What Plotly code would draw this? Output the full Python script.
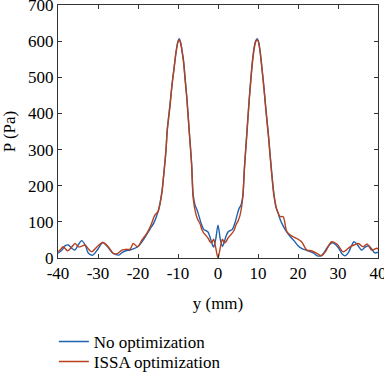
import plotly.graph_objects as go

# --- data ---
y_no = [-40, -39, -38.2, -37.4, -36.5, -35.8, -35, -34.1, -33.2, -32.4, -31.3, -30, -28.8, -27.5, -26.5,
        -25.7, -24.8, -24, -23, -22, -21, -20, -19, -18, -17, -16, -15, -14.5, -14, -13.7, -13, -12.7,
        -12, -11.5, -11, -10.5, -10, -9.7, -9.3, -9, -8.6, -8.2, -7.8, -7.2, -6.6, -6.2, -5.7, -5.3,
        -4.8, -4.2, -3.5, -3, -2.5, -2, -1.5, -1.1, -0.6, 0,
        0.6, 1.1, 1.5, 2, 2.5, 3, 3.5, 4.2, 4.8, 5.3, 5.7, 6.2, 6.6, 7.2, 7.8, 8.2, 8.6, 9, 9.4,
        9.8, 10.1, 10.5, 11, 11.5, 12, 12.7, 13, 13.7, 14, 14.5, 15, 15.5, 16, 17, 18, 19, 20, 21,
        22, 23, 24, 24.8, 25.7, 26.5, 27.5, 28.6, 30, 31, 31.75, 32.6, 33.3, 34, 34.9, 35.9, 36.8,
        37.6, 38.5, 39.2, 40]
p_no = [13, 22, 34, 36, 26, 22, 35, 48, 36, 13, 8, 25, 43, 30, 15,
        10, 8, 15, 20, 22, 26, 32, 45, 62, 80, 98, 128, 151, 185, 216, 300, 354,
        425, 480, 525, 570, 600, 607, 595, 575, 545, 495, 446, 354, 262, 175, 145, 135,
        118, 95, 78, 76, 72, 58, 40, 30, 50, 91,
        50, 32, 42, 60, 72, 76, 78, 96, 120, 138, 145, 172, 250, 345, 440, 495, 545, 580, 600,
        607, 600, 575, 525, 470, 410, 330, 290, 205, 175, 140, 125, 108, 95, 75, 60, 48, 34, 26,
        22, 18, 13, 6, 6, 15, 32, 42, 30, 12, 6, 15, 32, 45, 36, 22, 30,
        34, 24, 14, 16]

y_issa = [-40, -39.5, -38.7, -37.6, -36.6, -35.75, -34.9, -34, -33.25, -32.4, -31.6, -30.5, -28.8, -27.5,
          -26.2, -25.2, -24, -23, -22, -21.2, -20.1, -19, -17.8, -16.8, -15.75, -15, -14.5, -14, -13.7,
          -13, -12.7, -12, -11.5, -11, -10.5, -10, -9.7, -9.3, -9, -8.6, -8.2, -7.8, -7.2, -6.6, -6.2,
          -5.5, -5, -4.5, -4, -3.5, -3, -2.5, -2, -1.6, -1.1, -0.6, 0,
          0.6, 1.1, 1.6, 2, 2.5, 3, 3.5, 4, 4.5, 5, 5.5, 6.2, 6.6, 7.2, 7.8, 8.2, 8.6, 9, 9.4, 9.8,
          10.1, 10.5, 11, 11.5, 12, 12.7, 13, 13.7, 14, 14.7, 15.5, 16.3, 17.2, 18.3, 19.7, 20.9, 22.2,
          23.3, 24.7, 25.9, 27, 28.4, 29.8, 31.3, 33, 34, 35.1, 36.3, 37.3, 38.4, 39.7, 40]
p_issa = [18, 22, 31, 20, 30, 40, 31, 33, 36, 25, 17, 28, 43, 32,
          13, 12, 22, 24, 24, 40, 31, 50, 68, 90, 119, 128, 150, 182, 214,
          298, 350, 420, 478, 522, 568, 598, 604, 592, 572, 540, 490, 442, 350, 258, 165,
          120, 105, 95, 78, 68, 62, 55, 45, 42, 52, 30, 0,
          30, 52, 42, 45, 55, 62, 68, 76, 92, 102, 118, 168, 245, 340, 435, 490, 540, 575, 598, 604,
          598, 572, 522, 468, 405, 326, 285, 200, 172, 135, 115, 114, 73, 62, 54, 45, 22,
          20, 13, 6, 20, 45, 38, 17, 31, 36, 40, 31, 39, 22, 27, 24]

x_ticks = [-40, -30, -20, -10, 0, 10, 20, 30, 40]
x_tick_labels = ["-40", "-30", "-20", "-10", "0", "10", "20", "30", "40"]
y_ticks = [0, 100, 200, 300, 400, 500, 600, 700]

FONT = "Times New Roman, Liberation Serif, DejaVu Serif, serif"

fig = go.Figure()
fig.add_trace(go.Scatter(x=y_no, y=p_no, mode="lines", name="No optimization", legend="legend",
                         line=dict(color="#1f62b0", width=1.4, shape="spline", smoothing=0.8)))
fig.add_trace(go.Scatter(x=y_issa, y=p_issa, mode="lines", name="ISSA optimization", legend="legend2",
                         line=dict(color="#b8401c", width=1.4, shape="spline", smoothing=0.8)))

axis_common = dict(showgrid=False, zeroline=False, showline=True, linecolor="#333333", linewidth=1,
                   mirror="ticks", ticks="inside", ticklen=4, tickcolor="#333333",
                   ticklabeloverflow="allow", automargin=False,
                   tickfont=dict(family=FONT, size=17, color="black"))

fig.update_xaxes(range=[-40, 40], tickvals=x_ticks, ticktext=x_tick_labels,
                 title=dict(text="y (mm)", font=dict(family=FONT, size=17, color="black"), standoff=14),
                 **axis_common)
fig.update_yaxes(range=[0, 700], tickvals=y_ticks,
                 title=dict(text="P (Pa)", font=dict(family=FONT, size=17, color="black"), standoff=8),
                 **axis_common)

leg_common = dict(x=-0.013, xref="paper", yref="container", xanchor="left", yanchor="top",
                  font=dict(family=FONT, size=17, color="black"),
                  bgcolor="rgba(0,0,0,0)", itemwidth=30)

fig.update_layout(
    width=384, height=374,
    margin=dict(l=58, r=6, t=5, b=116, autoexpand=False),
    paper_bgcolor="white", plot_bgcolor="white",
    showlegend=True,
    legend=dict(y=0.1337, **leg_common),
    legend2=dict(y=0.0802, **leg_common),
)

fig.write_html("out.html", post_script="document.body.style.margin='0';",
               config={"displayModeBar": False})
